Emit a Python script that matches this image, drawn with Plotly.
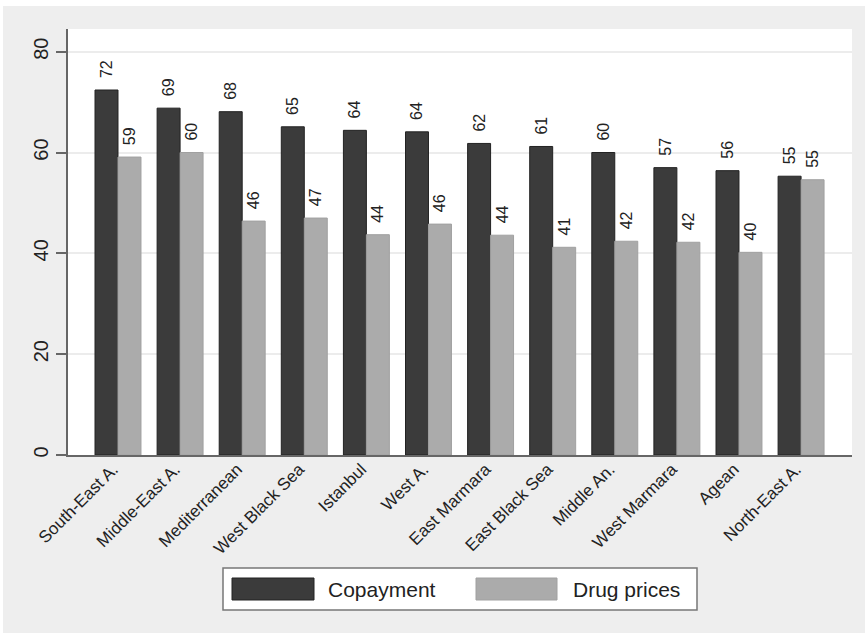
import plotly.graph_objects as go

regions = ["South-East A.", "Middle-East A.", "Mediterranean", "West Black Sea", "Istanbul",
           "West A.", "East Marmara", "East Black Sea", "Middle An.", "West Marmara",
           "Agean", "North-East A."]
copayment = [72.4, 68.8, 68.1, 65.1, 64.4, 64.1, 61.8, 61.2, 60.0, 57.0, 56.4, 55.3]
drug_prices = [59.1, 60.0, 46.4, 47.0, 43.7, 45.8, 43.6, 41.2, 42.4, 42.2, 40.2, 54.6]
y_ticks = [0, 20, 40, 60, 80]

DARK = "#3b3b3b"
LIGHT = "#ababab"
FONT = "Liberation Sans, Arial, sans-serif"

OX, OY = 3, 6          # page offset of the figure
W, H = 865 - OX, 633 - OY
L, R, T, B = 68, 852, 29, 455  # plot area in page pixels

LABEL_T = "\u00a0\u00a0%{y:.0f}"

fig = go.Figure()
fig.add_trace(go.Bar(x=regions, y=copayment, name="Copayment",
                     marker=dict(color=DARK, line=dict(color="#222222", width=1)),
                     texttemplate=LABEL_T, textposition="outside", textangle=-90,
                     constraintext="none",
                     textfont=dict(size=16, color="#222222", family=FONT), cliponaxis=False))
fig.add_trace(go.Bar(x=regions, y=drug_prices, name="Drug prices",
                     marker=dict(color=LIGHT, line=dict(color="#a0a0a0", width=1)),
                     texttemplate=LABEL_T, textposition="outside", textangle=-90,
                     constraintext="none",
                     textfont=dict(size=16, color="#222222", family=FONT), cliponaxis=False))

def px(x):
    return (x - L) / (R - L)

def py(y):
    return (B - y) / (B - T)

shapes = [
    dict(type="rect", xref="paper", yref="paper", x0=px(223), x1=px(697), y0=py(568), y1=py(610),
         fillcolor="white", line=dict(color="#777777", width=1.5)),
    dict(type="rect", xref="paper", yref="paper", x0=px(232), x1=px(314), y0=py(578), y1=py(600),
         fillcolor=DARK, line=dict(color="#222222", width=1)),
    dict(type="rect", xref="paper", yref="paper", x0=px(476), x1=px(557), y0=py(578), y1=py(600),
         fillcolor=LIGHT, line=dict(color="#a0a0a0", width=1)),
]
annotations = [
    dict(xref="paper", yref="paper", x=px(326), y=py(589), text="Copayment", showarrow=False,
         xanchor="left", yanchor="middle", font=dict(size=21, color="#222222", family=FONT)),
    dict(xref="paper", yref="paper", x=px(571), y=py(589), text="Drug prices", showarrow=False,
         xanchor="left", yanchor="middle", font=dict(size=21, color="#222222", family=FONT)),
]

fig.update_layout(
    width=W, height=H,
    margin=dict(l=L - OX, r=865 - R, t=T - OY, b=633 - B, pad=0),
    paper_bgcolor="#eeeeee", plot_bgcolor="white",
    barmode="group", bargap=0.26, bargroupgap=0,
    showlegend=False,
    shapes=shapes, annotations=annotations,
    font=dict(family=FONT, color="#222222"),
)
fig.update_xaxes(range=[-0.805, 11.82], tickangle=-45, showgrid=False,
                 showline=True, linecolor="#666666", linewidth=1.5, ticks="",
                 ticklabelshift=-5, ticklabelstandoff=-4,
                 tickfont=dict(size=17, family=FONT, color="#222222"))
fig.update_yaxes(range=[0, 84.5], tickvals=y_ticks, tickangle=-90, showgrid=True,
                 gridcolor="#ececec", gridwidth=1.5, zeroline=False,
                 showline=True, linecolor="#666666", linewidth=1.5,
                 ticks="outside", ticklen=10, tickcolor="#666666", tickwidth=1.5,
                 ticklabelstandoff=0,
                 tickfont=dict(size=20, family=FONT, color="#222222"))

fig.write_html("out.html",
               post_script="document.body.style.margin='%dpx 0 0 %dpx';" % (OY, OX))
